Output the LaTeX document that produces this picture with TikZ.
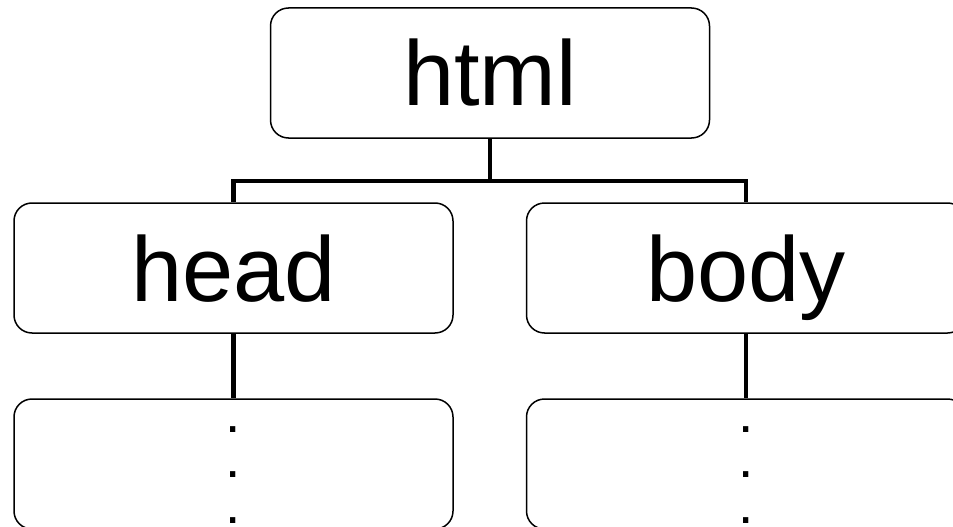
\documentclass[tikz,border=0pt]{standalone}
\usepackage{fontspec}
\setmainfont{Liberation Sans}
\begin{document}
\begin{tikzpicture}[x=1pt,y=-1pt,
  treebox/.style={draw=black,line width=1.5pt,rounded corners=18pt,minimum width=439pt,minimum height=130pt,inner sep=0pt,
    font=\fontsize{92}{92}\selectfont,text height=66pt,text depth=0pt},
  dotstext/.style={inner sep=0pt,align=center,font=\fontsize{55}{45.5}\selectfont},
  link/.style={line width=4.5pt}]
\useasboundingbox (0,0) rectangle (953,527);
\clip (0,0) rectangle (953,527);
\fill[white] (0,0) rectangle (953,527);
\node[treebox] (html) at (490,73) {html};
\node[treebox] (head) at (233.5,268) {head};
\node[treebox] (body) at (746,268) {body};
\node[treebox] (hkids) at (233.5,464) {};
\node[treebox] (bkids) at (746,464) {};
\node[dotstext] (hdots) at (233.5,475) {.\\.\\.};
\node[dotstext] (bdots) at (746,475) {.\\.\\.};
\draw[link] (html.south) -- ++(0,42) -| (head.north);
\draw[link] (html.south) -- ++(0,42) -| (body.north);
\draw[link] (head.south) -- (hkids.north);
\draw[link] (body.south) -- (bkids.north);
\end{tikzpicture}
\end{document}
